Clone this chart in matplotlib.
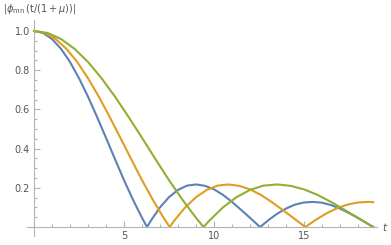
import numpy as np
import matplotlib.pyplot as plt

# values, one list per curve
t_blue = [0, 0.5, 1.0, 1.5, 2.0, 2.5, 3.0, 3.5, 4.0, 4.5, 5.0, 5.5, 6.0, 6.28,
          6.5, 7.0, 7.5, 8.0, 8.5, 9.0, 9.5, 10.0, 10.5, 11.0, 11.5, 12.0, 12.5, 12.57,
          13.0, 13.5, 14.0, 14.5, 15.0, 15.5, 16.0, 16.5, 17.0, 17.5, 18.0, 18.5, 18.85]
y_blue = [1.0, 0.990, 0.959, 0.909, 0.842, 0.759, 0.665, 0.562, 0.455, 0.346, 0.239, 0.139, 0.047, 0.0,
          0.033, 0.100, 0.152, 0.189, 0.211, 0.217, 0.210, 0.192, 0.164, 0.128, 0.088, 0.047, 0.005, 0.0,
          0.033, 0.067, 0.094, 0.114, 0.125, 0.128, 0.124, 0.112, 0.094, 0.071, 0.046, 0.019, 0.0]

t_orange = [0, 0.6, 1.2, 1.8, 2.4, 3.0, 3.6, 4.2, 4.8, 5.4, 6.0, 6.6, 7.2, 7.54,
            7.8, 8.4, 9.0, 9.6, 10.2, 10.8, 11.4, 12.0, 12.6, 13.2, 13.8, 14.4, 15.0, 15.08,
            15.6, 16.2, 16.8, 17.4, 18.0, 18.6, 18.85]
y_orange = [1.0, 0.990, 0.959, 0.909, 0.842, 0.759, 0.665, 0.562, 0.455, 0.346, 0.239, 0.139, 0.047, 0.0,
            0.033, 0.100, 0.152, 0.189, 0.211, 0.217, 0.210, 0.192, 0.164, 0.128, 0.088, 0.047, 0.005, 0.0,
            0.033, 0.067, 0.094, 0.114, 0.125, 0.128, 0.127]

t_green = [0, 0.75, 1.5, 2.25, 3.0, 3.75, 4.5, 5.25, 6.0, 6.75, 7.5, 8.25, 9.0, 9.42,
           9.75, 10.5, 11.25, 12.0, 12.75, 13.5, 14.25, 15.0, 15.75, 16.5, 17.25, 18.0, 18.75, 18.85]
y_green = [1.0, 0.990, 0.959, 0.909, 0.842, 0.759, 0.665, 0.562, 0.455, 0.346, 0.239, 0.139, 0.047, 0.0,
           0.033, 0.100, 0.152, 0.189, 0.211, 0.217, 0.210, 0.192, 0.164, 0.128, 0.088, 0.047, 0.005, 0.0]

x_ticks = [5, 10, 15]
y_ticks = [0.2, 0.4, 0.6, 0.8, 1.0]

axis_col = '#b3b3b3'
label_col = '#555555'

fig = plt.figure(figsize=(3.91, 2.45), dpi=100)
ax = fig.add_axes([27 / 391, 9 / 245, 350 / 391, 216 / 245])

ax.plot(t_blue, y_blue, color='#5e81b5', lw=1.5, solid_joinstyle='round')
ax.plot(t_orange, y_orange, color='#e19c24', lw=1.5, solid_joinstyle='round')
ax.plot(t_green, y_green, color='#8fb032', lw=1.5, solid_joinstyle='round')

ax.set_xlim(-0.39, 19.06)
ax.set_ylim(-0.046, 1.056)

# mathematica style axes crossing at the origin
for s in ['top', 'right']:
    ax.spines[s].set_visible(False)
ax.spines['left'].set_position(('data', 0))
ax.spines['bottom'].set_position(('data', 0))
for s in ['left', 'bottom']:
    ax.spines[s].set_color(axis_col)
    ax.spines[s].set_linewidth(0.8)

ax.set_xticks(x_ticks)
ax.set_xticks(np.arange(1, 19, 1), minor=True)
ax.set_yticks(y_ticks)
ax.set_yticks(np.arange(0.05, 1.05, 0.05), minor=True)
ax.set_yticklabels(['%.1f' % v for v in y_ticks])
ax.tick_params(which='both', direction='in', color=axis_col, width=0.8,
               labelsize=7, labelcolor=label_col)
ax.tick_params(which='major', length=4, pad=3)
ax.tick_params(which='minor', length=2.2)

fig.text(3 / 391, 1 - 9 / 245, r'$|\phi_{\rm mn}\,(\mathrm{t}/(1+\mu))|$',
         fontsize=7, color=label_col, ha='left', va='center')
ax.text(1.024, 0.042, r'$t$', transform=ax.transAxes, fontsize=7.5,
        color=label_col, ha='center', va='center')

fig.savefig('out.png', dpi=100)
